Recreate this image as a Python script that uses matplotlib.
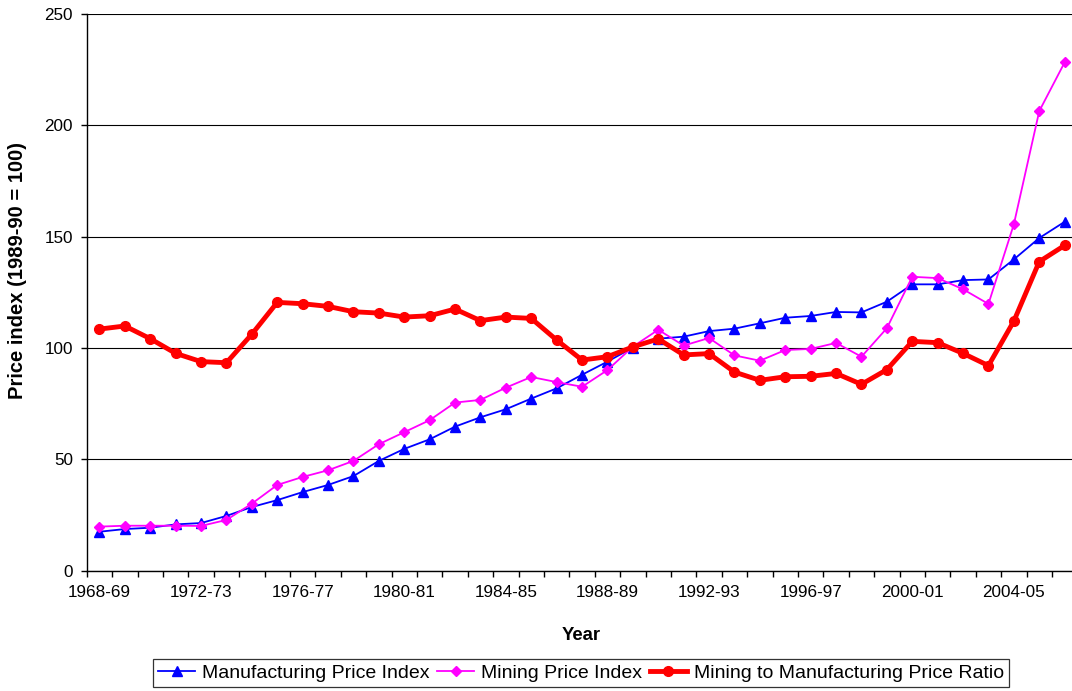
import numpy as np
import matplotlib.pyplot as plt

plt.rcParams['font.family'] = ['Liberation Sans', 'DejaVu Sans']

# financial years 1968-69 .. 2006-07
years = [f"{y}-{str(y + 1)[-2:]}" for y in range(1968, 2007)]

manufacturing = [17.5, 18.7, 19.3, 20.8, 21.4, 24.6, 28.6, 31.7, 35.3, 38.5,
                 42.5, 49.3, 54.7, 59.0, 64.7, 68.9, 72.5, 77.3, 81.9, 88.0,
                 93.9, 100.2, 104.2, 105.1, 107.6, 108.7, 111.1, 113.6, 114.4, 116.2,
                 116.0, 120.8, 128.6, 128.6, 130.5, 130.8, 139.8, 149.4, 156.7]

mining = [19.8, 20.2, 20.2, 20.2, 20.1, 22.8, 30.1, 38.5, 42.1, 45.1,
          49.3, 56.8, 62.2, 67.6, 75.5, 76.7, 82.2, 87.0, 84.7, 82.6,
          90.1, 100.6, 108.2, 101.1, 104.5, 96.7, 94.3, 99.1, 99.6, 102.3,
          96.1, 108.9, 132.0, 131.4, 126.4, 119.8, 155.6, 206.4, 228.3]

ratio = [108.5, 109.9, 104.2, 97.6, 93.9, 93.4, 106.2, 120.5, 119.9, 118.7,
         116.3, 115.7, 113.9, 114.5, 117.5, 112.3, 113.9, 113.3, 103.6, 94.6,
         96.1, 100.5, 104.1, 96.9, 97.5, 89.2, 85.5, 87.1, 87.3, 88.6,
         83.7, 90.3, 103.0, 102.4, 97.6, 92.1, 112.1, 138.8, 146.1]

x = np.arange(len(years))

fig = plt.figure(figsize=(10.72, 6.91), dpi=100)
ax = fig.add_axes([0.0809, 0.1741, 0.9241, 0.8056])

ax.plot(x, manufacturing, color='#0000FF', lw=1.3, marker='^', ms=7,
        label='Manufacturing Price Index', zorder=3)
ax.plot(x, mining, color='#FF00FF', lw=1.3, marker='D', ms=5.5,
        label='Mining Price Index', zorder=3)
ax.plot(x, ratio, color='#FF0000', lw=3.5, marker='o', ms=7,
        label='Mining to Manufacturing Price Ratio', zorder=4)

ax.set_xlim(-0.5, len(years) - 0.5)
ax.set_ylim(0, 250)
ax.set_yticks(range(0, 251, 50))
ax.yaxis.grid(True, color='black', lw=0.8)
ax.set_axisbelow(True)

# tick marks on category boundaries, labels every fourth year
ax.set_xticks(np.arange(len(years) + 1) - 0.5)
ax.set_xticklabels([])
ax.set_xticks(x[::4], minor=True)
ax.set_xticklabels(years[::4], minor=True)
ax.tick_params(axis='x', which='major', length=4, direction='out', width=1)
ax.tick_params(axis='x', which='minor', length=0, pad=10, labelsize=12.3)
ax.tick_params(axis='y', length=4, width=1, labelsize=12.3, pad=6)

for s in ['top', 'right']:
    ax.spines[s].set_visible(False)
ax.spines['left'].set_linewidth(1)
ax.spines['bottom'].set_linewidth(1)

ax.set_xlabel('Year', fontsize=13.3, fontweight='bold')
ax.xaxis.set_label_coords(0.499, -0.101)
ax.set_ylabel('Price index (1989-90 = 100)', fontsize=14.5, fontweight='bold')
ax.yaxis.set_label_coords(-0.060, 0.54)

leg = fig.legend(loc='center', bbox_to_anchor=(0.542, 0.026), ncol=3,
                 fontsize=14, frameon=True, fancybox=False, edgecolor='black',
                 handlelength=1.9, columnspacing=0.4, handletextpad=0.35,
                 borderpad=0.25, borderaxespad=0)
leg.get_frame().set_linewidth(0.9)

fig.savefig('out.png', dpi=100)
